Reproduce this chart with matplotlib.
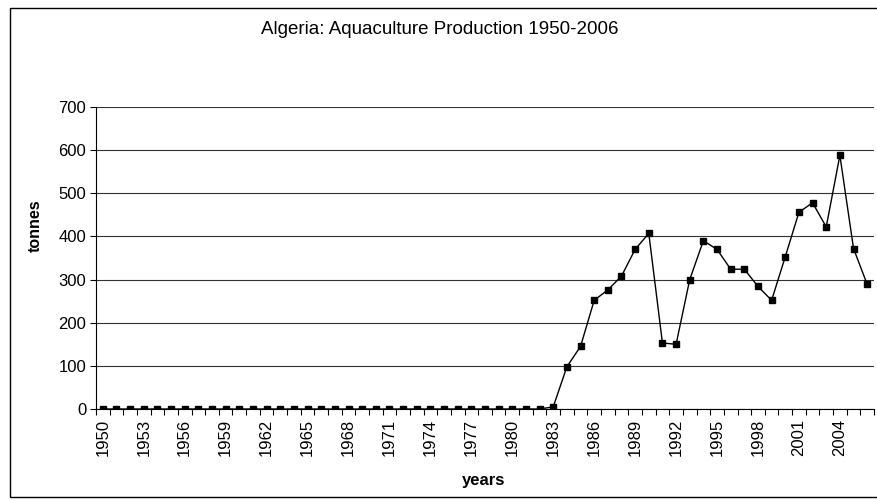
import numpy as np
import matplotlib
matplotlib.use("Agg")
import matplotlib.pyplot as plt
from matplotlib.patches import Rectangle

plt.rcParams['font.family'] = ['Liberation Sans', 'DejaVu Sans']

years = list(range(1950, 2007))
# tonnes per year
production = [0] * 33 + [5, 98, 145, 252, 276, 308, 370, 407, 153, 150,
                         300, 390, 370, 324, 324, 284, 252, 353, 456, 478,
                         422, 588, 372, 289]
label_years = list(range(1950, 2007, 3))
y_ticks = [0, 100, 200, 300, 400, 500, 600, 700]

fig = plt.figure(figsize=(8.78, 5), dpi=100)
ax = fig.add_axes([96 / 878, 1 - 409 / 500, 778 / 878, 302 / 500])

x = np.arange(len(years))
ax.plot(x, production, color='black', lw=1, marker='s', ms=5,
        mfc='black', mec='black', zorder=3)

ax.set_xlim(-0.5, len(years) - 0.5)
ax.set_ylim(0, 700)
ax.set_yticks(y_ticks)
ax.yaxis.grid(True, color='#333333', lw=0.8)
ax.set_axisbelow(True)

pos = [years.index(y) for y in label_years]
ax.set_xticks(pos)
ax.set_xticklabels([str(y) for y in label_years], rotation=90, fontsize=12)
ax.set_xticks(np.arange(-0.5, len(years)), minor=True)
ax.tick_params(axis='x', which='major', length=0, pad=7)
ax.tick_params(axis='x', which='minor', length=4, width=0.8, direction='out')
ax.tick_params(axis='y', length=4, width=0.8, labelsize=12, pad=3)

for s in ['top', 'right']:
    ax.spines[s].set_visible(False)
for s in ['left', 'bottom']:
    ax.spines[s].set_linewidth(0.8)

fig.text(35 / 878, 1 - 226 / 500, 'tonnes', rotation=90, ha='center',
         va='center', fontsize=11.5, fontweight='bold')
fig.text(484 / 878, 1 - 480 / 500, 'years', ha='center', va='center',
         fontsize=12, fontweight='bold')
fig.text(440 / 878, 1 - 29 / 500, 'Algeria: Aquaculture Production 1950-2006',
         ha='center', va='center', fontsize=13.5)

fig.patches.append(Rectangle((10 / 878, 3 / 500), 880 / 878, 489 / 500,
                             transform=fig.transFigure, fill=False,
                             edgecolor='black', lw=1))

fig.savefig('out.png', dpi=100)
